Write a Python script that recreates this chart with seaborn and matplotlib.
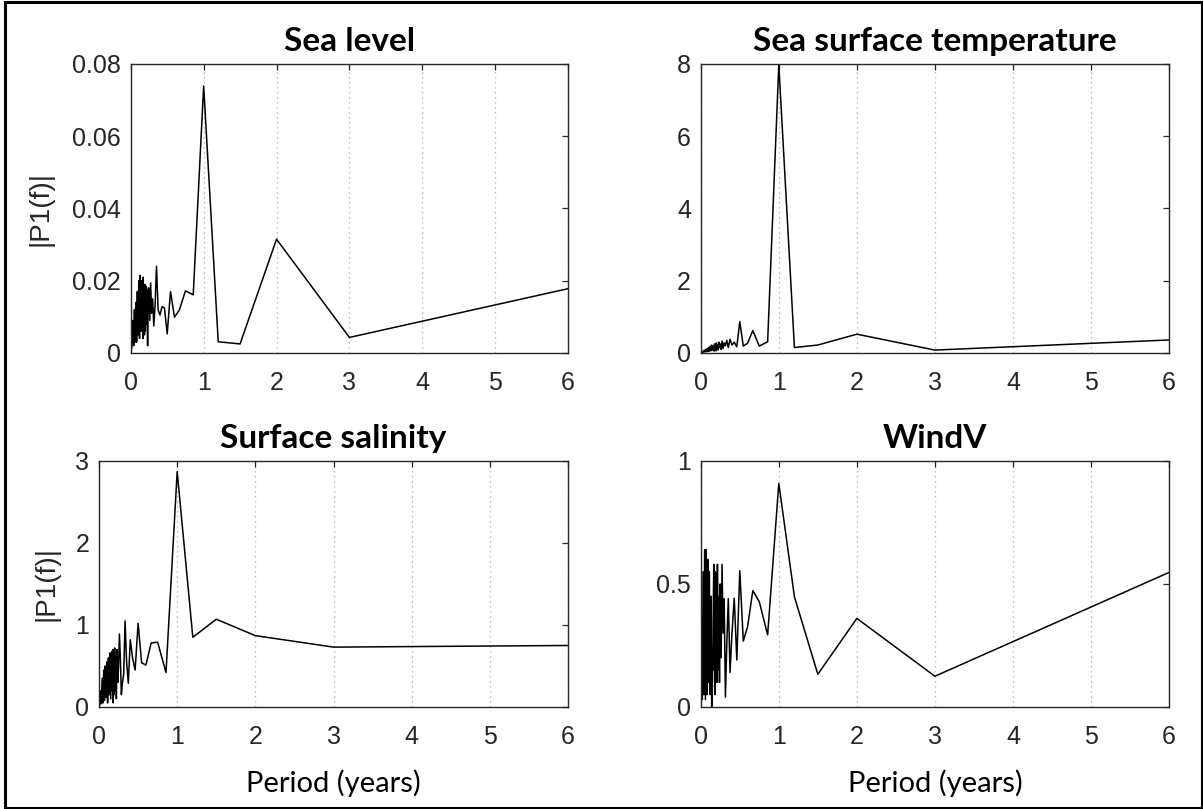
import matplotlib
matplotlib.use("Agg")
import matplotlib.pyplot as plt
import matplotlib.patches as mpatches
import seaborn as sns
import pandas as pd

# ---------------- data ----------------
periods = [6.0, 3.0, 2.0, 1.5, 1.2, 1.0, 0.857, 0.75, 0.667, 0.6, 0.545, 0.5,
           0.462, 0.429, 0.4, 0.375, 0.353, 0.333, 0.316, 0.3, 0.286, 0.273,
           0.261, 0.25, 0.24, 0.231, 0.222, 0.214, 0.207, 0.2, 0.194, 0.188,
           0.182, 0.176, 0.171, 0.167, 0.15, 0.14, 0.13, 0.12, 0.11, 0.10,
           0.09, 0.08, 0.07, 0.06, 0.05, 0.04, 0.03, 0.02, 0.01]

sea_level = [0.0178, 0.0043, 0.0315, 0.0025, 0.0031, 0.0739, 0.0161, 0.0172,
             0.0119, 0.0099, 0.0170, 0.0053, 0.0125, 0.0128, 0.0105,
             0.0120, 0.0240, 0.0130, 0.0075, 0.0150, 0.0110, 0.0194, 0.0090,
             0.0180, 0.0180, 0.0020, 0.0175, 0.0080, 0.0185, 0.0060, 0.0190,
             0.0050, 0.0170, 0.0070, 0.0210, 0.0040,
             0.0200, 0.0060, 0.0215, 0.0040, 0.0200, 0.0050, 0.0170, 0.0030,
             0.0140, 0.0030, 0.0120, 0.0020, 0.0090, 0.0030, 0.0010]

sst = [0.36, 0.08, 0.52, 0.22, 0.15, 7.98, 0.31, 0.19, 0.62, 0.27, 0.19, 0.87,
       0.17, 0.30, 0.22,
       0.38, 0.15, 0.35, 0.20, 0.28, 0.12, 0.33, 0.10, 0.25, 0.15, 0.30, 0.08,
       0.22, 0.12, 0.28, 0.06, 0.20, 0.10, 0.25, 0.05, 0.18,
       0.08, 0.22, 0.06, 0.18, 0.05, 0.15, 0.04, 0.12, 0.03, 0.10, 0.03, 0.07,
       0.02, 0.04, 0.01]

salinity = [0.75, 0.73, 0.87, 1.07, 0.85, 2.87, 0.42, 0.79, 0.78, 0.51, 0.54,
            1.02, 0.45, 0.60, 0.82,
            0.29, 0.55, 1.05, 0.40, 0.30, 0.15, 0.60, 0.89, 0.50, 0.30, 0.70,
            0.10, 0.62, 0.20, 0.72, 0.15, 0.65, 0.05, 0.70, 0.20, 0.68,
            0.10, 0.66, 0.15, 0.60, 0.05, 0.55, 0.12, 0.50, 0.08, 0.45, 0.05,
            0.35, 0.04, 0.20, 0.02]

windv = [0.547, 0.125, 0.36, 0.133, 0.448, 0.909, 0.293, 0.428, 0.473, 0.326,
         0.268, 0.554, 0.191, 0.442, 0.30,
         0.14, 0.44, 0.25, 0.04, 0.44, 0.30, 0.58, 0.20, 0.50, 0.10, 0.45,
         0.15, 0.58, 0.10, 0.50, 0.20, 0.55, 0.05, 0.48, 0.15, 0.58,
         0.10, 0.00, 0.45, 0.05, 0.55, 0.10, 0.60, 0.05, 0.64, 0.03, 0.64,
         0.05, 0.55, 0.03, 0.30]

titles = ["Sea level", "Sea surface temperature", "Surface salinity", "WindV"]
series = [sea_level, sst, salinity, windv]
yticks = [[0, 0.02, 0.04, 0.06, 0.08], [0, 2, 4, 6, 8], [0, 1, 2, 3], [0, 0.5, 1]]
yticklabels = [["0", "0.02", "0.04", "0.06", "0.08"], ["0", "2", "4", "6", "8"],
               ["0", "1", "2", "3"], ["0", "0.5", "1"]]
xticks = [0, 1, 2, 3, 4, 5, 6]
ylabel_text = "|P1(f)|"
xlabel_text = "Period (years)"

# ---------------- style ----------------
sns.set_style("white")
plt.rcParams["font.family"] = ["Liberation Sans", "DejaVu Sans"]

W, H = 1203, 809
fig = plt.figure(figsize=(W / 100, H / 100), dpi=100)

positions = [
    [0.1087, 0.5637, 0.3635, 0.3572],
    [0.5825, 0.5637, 0.3893, 0.3572],
    [0.0823, 0.1261, 0.3899, 0.3041],
    [0.5825, 0.1261, 0.3893, 0.3041],
]

spine_col = "#262626"
for i in range(4):
    ax = fig.add_axes(positions[i])
    df = pd.DataFrame({"period": periods, "amp": series[i]})
    sns.lineplot(data=df, x="period", y="amp", ax=ax, color="black",
                 linewidth=1.1, estimator=None, sort=True)
    ax.set_xlim(0, 6)
    ax.set_ylim(yticks[i][0], yticks[i][-1])
    ax.set_xticks(xticks)
    ax.set_xticklabels([str(t) for t in xticks])
    ax.set_yticks(yticks[i])
    ax.set_yticklabels(yticklabels[i])
    ax.tick_params(axis="both", direction="in", length=4, width=0.9,
                   colors=spine_col, labelsize=18, top=True, right=True)
    ax.tick_params(axis="x", pad=13)
    ax.tick_params(axis="y", pad=7)
    for s in ax.spines.values():
        s.set_visible(True)
        s.set_color(spine_col)
        s.set_linewidth(1.0)
    ax.grid(False)
    ax.xaxis.grid(True, color="#a8a8a8", linestyle=(0, (1, 3)), linewidth=0.9)
    ax.set_axisbelow(True)
    ax.set_title(titles[i], fontsize=24, fontweight="bold", family="Lato",
                 pad=9, color="black")
    ax.set_xlabel("")
    ax.set_ylabel("")
    if i in (0, 2):
        ax.set_ylabel(ylabel_text, fontsize=20, color=spine_col)
        ax.yaxis.label.set_va("center")
        if i == 0:
            ax.yaxis.set_label_coords(-0.207, 0.5)
        else:
            ax.yaxis.set_label_coords(-0.111, 0.5)
    if i in (2, 3):
        ax.set_xlabel(xlabel_text, fontsize=21, family="Lato", color="black")
        ax.xaxis.label.set_va("center")
        ax.xaxis.set_label_coords(0.5, -0.31)

# figure frame
frame = mpatches.Rectangle((5 / W, 1 / H), 1 - 6 / W, 1 - 2.5 / H,
                           transform=fig.transFigure, fill=False,
                           edgecolor="black", linewidth=2.2)
fig.patches.append(frame)

fig.savefig("out.png", dpi=100)
